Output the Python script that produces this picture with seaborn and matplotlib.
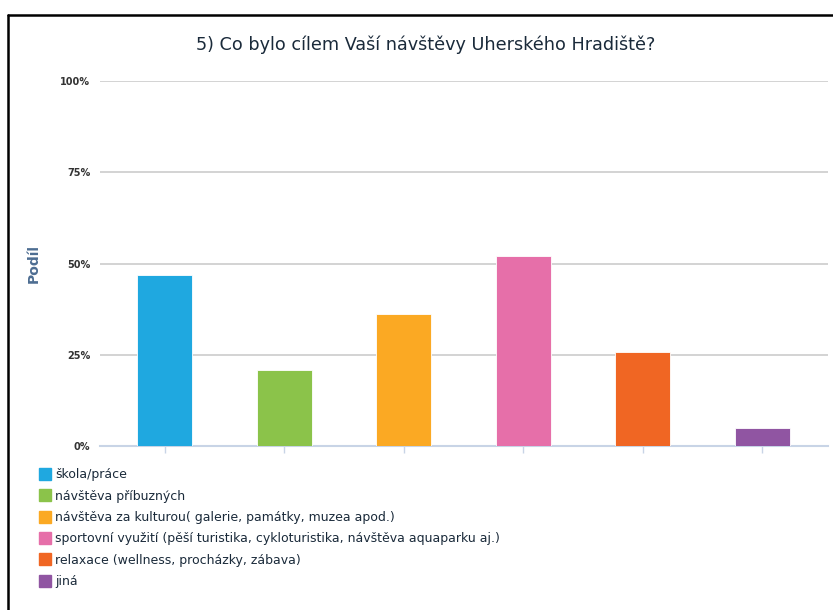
import matplotlib
matplotlib.use("Agg")
import matplotlib.pyplot as plt
import seaborn as sns
import pandas as pd
from matplotlib.lines import Line2D

categories = [
    "škola/práce",
    "návštěva příbuzných",
    "návštěva za kulturou( galerie, památky, muzea apod.)",
    "sportovní využití (pěší turistika, cykloturistika, návštěva aquaparku aj.)",
    "relaxace (wellness, procházky, zábava)",
    "jiná",
]
values = [46.8, 20.7, 36.2, 52.1, 25.8, 4.9]
colors = ["#1fa8e0", "#8bc34a", "#fba923", "#e66fa9", "#f06623", "#9055a2"]
yticks = [0, 25, 50, 75, 100]
ytick_labels = ["0%", "25%", "50%", "75%", "100%"]
title = "5) Co bylo cílem Vaší návštěvy Uherského Hradiště?"
ylabel = "Podíl"

sns.set_theme(style="white")
plt.rcParams["font.family"] = ["DejaVu Sans"]

W, H = 833, 610
fig = plt.figure(figsize=(W / 100, H / 100), dpi=100)
ax = fig.add_axes([100 / W, (H - 446) / H, 728 / W, 365 / H])

df = pd.DataFrame({"cat": categories, "val": values})
sns.barplot(data=df, x="cat", y="val", hue="cat", palette=colors, width=0.46,
            saturation=1, legend=False, ax=ax, edgecolor="white",
            linewidth=0.6, zorder=3)

ax.set_ylim(0, 100)
ax.set_xlim(-0.54, 5.55)
ax.set_yticks(yticks)
ax.set_yticklabels(ytick_labels, fontsize=7, fontweight="bold", color="#333333")
ax.set_xticks(range(len(categories)))
ax.set_xticklabels([""] * len(categories))
ax.grid(axis="y", color="#cccccc", linewidth=1.2, zorder=0)
ax.set_axisbelow(True)
for s in ["top", "right", "left"]:
    ax.spines[s].set_visible(False)
ax.spines["bottom"].set_color("#c8d4e6")
ax.spines["bottom"].set_linewidth(1.5)
ax.tick_params(axis="x", length=5, color="#c8d4e6", width=1, bottom=True)
ax.tick_params(axis="y", length=0, pad=7)
ax.set_xlabel("")
ax.set_ylabel(ylabel, fontsize=10, fontweight="bold", color="#4d6d92")
ax.yaxis.set_label_coords(-0.082, 0.5)

fig.text(426 / W, 1 - 45 / H, title, ha="center", va="center",
         fontsize=12.7, color="#1a2a3a", fontweight="medium")

handles = [Line2D([0], [0], marker="s", linestyle="", markersize=8.5,
                  markerfacecolor=c, markeredgecolor=c) for c in colors]
fig.legend(handles, categories, loc="upper left",
           bbox_to_anchor=(31 / W, 1 - 462 / H), frameon=False,
           fontsize=9, labelspacing=0.67, handletextpad=0.25,
           handlelength=1.2, borderpad=0, labelcolor="#1a2a3a")

# figure frame lines (top and left)
fig.add_artist(Line2D([8 / W, 1], [1 - 15 / H, 1 - 15 / H], color="black",
                      linewidth=1.8, transform=fig.transFigure))
fig.add_artist(Line2D([8 / W, 8 / W], [0, 1 - 15 / H], color="black",
                      linewidth=1.8, transform=fig.transFigure))

fig.savefig("out.png", dpi=100)
